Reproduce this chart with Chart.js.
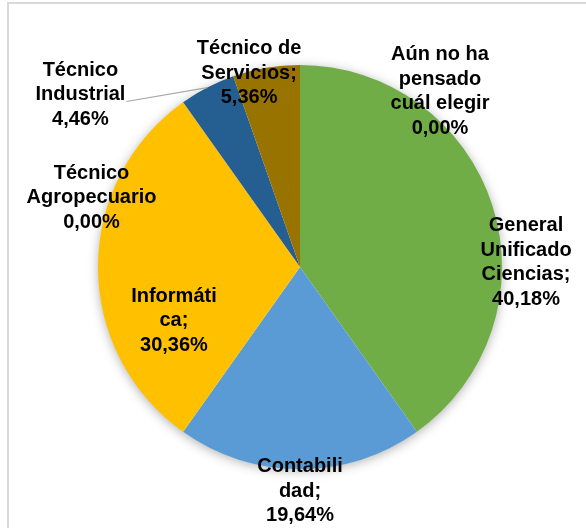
<!DOCTYPE html>
<html>
<head>
<meta charset="utf-8">
<script src="https://cdn.jsdelivr.net/npm/chart.js@4"></script>
<style>
  body { margin: 0; background: #fff; }
  #wrap { position: relative; width: 586px; height: 528px; }
  #frame { position: absolute; left: 7px; top: 2px; right: 0; bottom: 0;
           border-left: 2px solid #d9d9d9; border-top: 2px solid #d9d9d9; }
  canvas { position: absolute; left: 0; top: 0; }
</style>
</head>
<body>
<div id="wrap">
  <div id="frame"></div>
  <canvas id="pie" width="586" height="528"></canvas>
</div>
<script>
// ===== data =====
const categories = [
  'General Unificado Ciencias',
  'Contabilidad',
  'Informática',
  'Técnico Agropecuario',
  'Técnico Industrial',
  'Técnico de Servicios',
  'Aún no ha pensado cuál elegir'
];
const percents = [40.18, 19.64, 30.36, 0.00, 4.46, 5.36, 0.00];
const labelLines = [
  ['General', 'Unificado', 'Ciencias;', '40,18%'],
  ['Contabili', 'dad;', '19,64%'],
  ['Informáti', 'ca;', '30,36%'],
  ['Técnico', 'Agropecuario', '0,00%'],
  ['Técnico', 'Industrial', '4,46%'],
  ['Técnico de', 'Servicios;', '5,36%'],
  ['Aún no ha', 'pensado', 'cuál elegir', '0,00%']
];
const colors = ['#70AD47', '#5B9BD5', '#FFC000', '#ED7D31', '#255E91', '#997300', '#A5A5A5'];

// label block centres, in units of the pie radius from the pie centre
const labelOffsets = [
  [1.119, -0.022],
  [0.000, 1.109],
  [-0.624, 0.267],
  [-1.032, -0.344],
  [-1.087, -0.854],
  [-0.252, -0.960],
  [0.693, -0.869]
];
const leaderIndex = 4; // Técnico Industrial has a leader line

// ===== plugins =====
const pieShadow = {
  id: 'pieShadow',
  beforeDatasetsDraw(chart) {
    const arc = chart.getDatasetMeta(0).data[0];
    const ctx = chart.ctx;
    ctx.save();
    ctx.shadowColor = 'rgba(0,0,0,0.35)';
    ctx.shadowBlur = 12;
    ctx.shadowOffsetY = 2;
    ctx.fillStyle = '#ffffff';
    ctx.beginPath();
    ctx.arc(arc.x, arc.y, arc.outerRadius - 1, 0, Math.PI * 2);
    ctx.fill();
    ctx.restore();
  }
};

const sliceLabels = {
  id: 'sliceLabels',
  afterDatasetsDraw(chart) {
    const ctx = chart.ctx;
    const arcs = chart.getDatasetMeta(0).data;
    const cx = arcs[0].x, cy = arcs[0].y, r = arcs[0].outerRadius;
    const lh = 24.5;
    ctx.save();
    ctx.font = 'bold 20px "Liberation Sans", Arial, sans-serif';
    ctx.textAlign = 'center';
    ctx.textBaseline = 'middle';
    ctx.fillStyle = '#000';

    labelLines.forEach((lines, i) => {
      const x = cx + labelOffsets[i][0] * r;
      const y0 = cy + labelOffsets[i][1] * r - (lines.length - 1) * lh / 2;

      if (i === leaderIndex) {
        const a = arcs[i];
        const mid = (a.startAngle + a.endAngle) / 2;
        const w = ctx.measureText(lines[1]).width;
        ctx.save();
        ctx.strokeStyle = '#a6a6a6';
        ctx.lineWidth = 1.2;
        ctx.beginPath();
        ctx.moveTo(x + w / 2 + 1, y0 + lh + 7);
        ctx.lineTo(cx + Math.cos(mid) * r, cy + Math.sin(mid) * r);
        ctx.stroke();
        ctx.restore();
      }

      lines.forEach((t, k) => ctx.fillText(t, x, y0 + k * lh));
    });
    ctx.restore();
  }
};

// ===== chart =====
new Chart(document.getElementById('pie'), {
  type: 'pie',
  data: {
    labels: categories,
    datasets: [{
      data: percents,
      backgroundColor: colors,
      borderWidth: 0
    }]
  },
  options: {
    responsive: false,
    animation: false,
    devicePixelRatio: 1,
    layout: { padding: { top: 65, bottom: 59, left: 98, right: 84 } },
    plugins: {
      legend: { display: false },
      tooltip: { enabled: false }
    }
  },
  plugins: [pieShadow, sliceLabels]
});
</script>
</body>
</html>
